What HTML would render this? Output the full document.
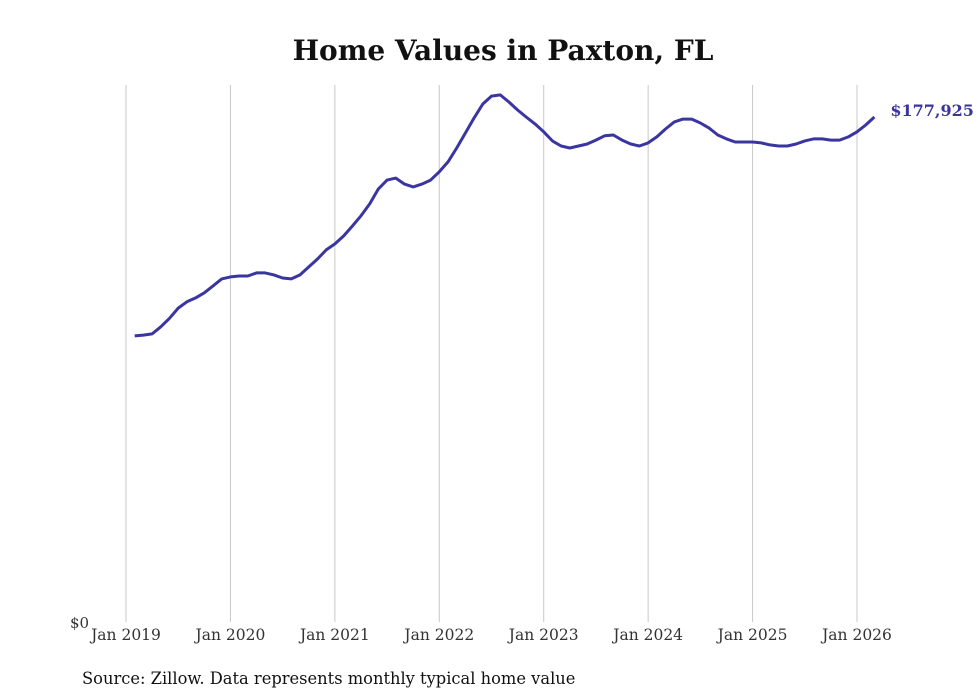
<!DOCTYPE html>
<html><head><meta charset="utf-8"><style>
body{margin:0;background:#fff;}
svg{display:block;font-family:"DejaVu Serif","Liberation Serif",serif;}
</style></head><body>
<svg id="chart" width="980" height="699">
<text x="503" y="60" text-anchor="middle" font-size="28" font-weight="bold" fill="#111">Home Values in Paxton, FL</text>
<g id="grid"></g>
<g id="xlabels"></g>
<text x="70" y="628" font-size="15" fill="#333">$0</text>
<path id="line" fill="none" stroke="#3b35a0" stroke-width="3" stroke-linejoin="round"></path>
<text id="endlabel" font-size="16" font-weight="bold" fill="#3b35a0"></text>
<text x="82" y="684" font-size="16.3" fill="#111">Source: Zillow. Data represents monthly typical home value</text>
</svg>
<script>
const years=[2019,2020,2021,2022,2023,2024,2025,2026];
const startMonth=1; // Feb 2019, months after Jan 2019
const values=[100.8,101.1,101.5,104,107,110.6,112.8,114.2,116,118.4,120.9,121.6,121.9,121.9,123,123,122.3,121.2,120.9,122.3,125.1,127.9,131.1,133.2,136,139.5,143.1,147.3,152.6,155.7,156.4,154.3,153.3,154.3,155.7,158.6,162.1,167,172.3,177.6,182.5,185.3,185.7,183.2,180.4,177.9,175.5,172.7,169.5,167.7,167,167.7,168.4,169.8,171.3,171.6,169.8,168.4,167.7,168.8,170.9,173.7,176.2,177.2,177.2,175.8,174,171.6,170.2,169.1,169.1,169.1,168.8,168.1,167.7,167.7,168.4,169.5,170.2,170.2,169.8,169.8,170.9,172.7,175.1,177.925];
const lastLabel="$177,925";
const ns="http://www.w3.org/2000/svg";
const x=m=>126+m*(731/84);
const y=v=>622-v*(505/177.925);
const grid=document.getElementById('grid'),xl=document.getElementById('xlabels');
years.forEach((yr,i)=>{
 const xx=x(i*12);
 const l=document.createElementNS(ns,'line');
 l.setAttribute('x1',xx);l.setAttribute('x2',xx);l.setAttribute('y1',85);l.setAttribute('y2',622);
 l.setAttribute('stroke','#c8c8c8');l.setAttribute('stroke-width','1');
 
 
 grid.appendChild(l);
 const t=document.createElementNS(ns,'text');
 t.setAttribute('x',xx);t.setAttribute('y',640);t.setAttribute('text-anchor','middle');
 t.setAttribute('font-size','15.5');t.setAttribute('fill','#333');
 t.textContent='Jan '+yr;
 
 
 xl.appendChild(t);
});
let d='';
values.forEach((v,i)=>{d+=(i?'L':'M')+x(i+startMonth).toFixed(1)+','+y(v).toFixed(1);});
document.getElementById('line').setAttribute('d',d);
const el=document.getElementById('endlabel');
const li=values.length-1;
el.setAttribute('x',x(li+startMonth)+16);el.setAttribute('y',y(values[li])-1);
el.textContent=lastLabel;
</script>
</body></html>
